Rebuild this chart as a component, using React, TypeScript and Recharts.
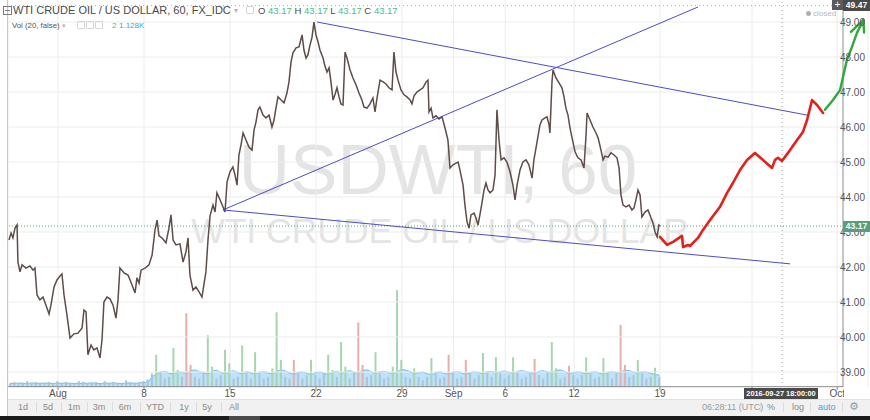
import React from 'react';
import { ComposedChart, Line, Bar, Area, Cell, XAxis, YAxis, CartesianGrid, ReferenceLine } from 'recharts';

// x = trading days counted from Mon 1 Aug 2016 (weekends skipped)
const dayTicks = [0, 5, 10, 15, 20, 23, 26, 30, 35, 40.35, 45.3];
// the "26" label sits under the crosshair date box, so only its grid line shows
const dayLabels = ['Aug', '8', '15', '22', '29', 'Sep', '6', '12', '19', '', 'Oct'];
const priceTicks = [39, 40, 41, 42, 43, 44, 45, 46, 47, 48, 49];

const priceDay = [
  -2.85, -2.73, -2.62, -2.5, -2.38, -2.33, -2.21, -2.09, -1.86, -1.63,
  -1.45, -1.34, -1.22, -1.05, -0.87, -0.7, -0.52, -0.41, -0.23, -0.06,
  0.12, 0.23, 0.35, 0.52, 0.7, 0.93, 1.16, 1.4, 1.51, 1.63,
  1.74, 1.92, 2.09, 2.27, 2.44, 2.56, 2.67, 2.85, 3.02, 3.2,
  3.37, 3.49, 3.6, 3.84, 4.07, 4.3, 4.48, 4.59, 4.71, 4.83,
  5.06, 5.29, 5.47, 5.64, 5.76, 5.87, 6.05, 6.28, 6.45, 6.57,
  6.69, 6.86, 7.09, 7.27, 7.44, 7.56, 7.67, 7.85, 8.02, 8.2,
  8.37, 8.49, 8.6, 8.72, 8.84, 9.01, 9.13, 9.24, 9.42, 9.59,
  9.71, 9.83, 10.0, 10.17, 10.29, 10.41, 10.52, 10.64, 10.76, 10.93,
  11.1, 11.28, 11.4, 11.51, 11.63, 11.74, 11.92, 12.09, 12.27, 12.44,
  12.56, 12.67, 12.79, 12.97, 13.14, 13.31, 13.43, 13.55, 13.66, 13.84,
  14.01, 14.19, 14.3, 14.42, 14.53, 14.65, 14.77, 14.88, 15.0, 15.12,
  15.23, 15.41, 15.52, 15.64, 15.76, 15.87, 15.99, 16.1, 16.22, 16.34,
  16.45, 16.57, 16.69, 16.8, 16.98, 17.15, 17.33, 17.5, 17.67, 17.79,
  17.97, 18.14, 18.31, 18.43, 18.55, 18.72, 18.9, 19.07, 19.24, 19.42,
  19.53, 19.65, 19.77, 19.94, 20.12, 20.29, 20.47, 20.58, 20.7, 20.87,
  21.05, 21.22, 21.4, 21.51, 21.57, 21.69, 21.8, 21.98, 22.15, 22.33,
  22.5, 22.67, 22.79, 22.97, 23.14, 23.26, 23.37, 23.55, 23.66, 23.78,
  23.9, 24.01, 24.19, 24.3, 24.42, 24.53, 24.65, 24.77, 24.88, 25.0,
  25.12, 25.29, 25.41, 25.52, 25.64, 25.76, 25.93, 26.1, 26.28, 26.45,
  26.57, 26.69, 26.86, 27.03, 27.21, 27.38, 27.56, 27.67, 27.85, 28.02,
  28.14, 28.31, 28.43, 28.55, 28.6, 28.72, 28.78, 28.95, 29.13, 29.3,
  29.42, 29.53, 29.65, 29.77, 29.94, 30.06, 30.23, 30.41, 30.58, 30.7,
  30.76, 30.93, 31.1, 31.28, 31.4, 31.57, 31.69, 31.8, 31.98, 32.15,
  32.33, 32.5, 32.62, 32.73, 32.85, 33.02, 33.2, 33.37, 33.49, 33.6,
  33.72, 33.84, 33.95, 34.13, 34.3, 34.48, 34.59, 34.71, 34.83, 34.94,
  35.0,
];
const priceClose = [
  42.77, 42.97, 42.83, 43.11, 43.2, 42.14, 41.86, 42.06, 41.97, 42.03,
  41.91, 41.97, 41.2, 41.06, 41.14, 40.91, 40.66, 40.91, 41.43, 41.63,
  41.74, 41.8, 41.2, 40.63, 39.97, 40.09, 40.11, 40.26, 40.77, 40.72,
  39.49, 39.77, 39.63, 39.69, 39.4, 39.92, 41.0, 41.14, 41.09, 40.91,
  40.54, 41.06, 41.97, 41.83, 41.77, 41.49, 41.26, 41.69, 41.54, 41.91,
  41.97, 42.06, 42.34, 43.06, 43.34, 42.89, 42.83, 42.69, 43.11, 43.49,
  42.77, 42.63, 42.66, 42.14, 42.43, 42.83, 41.77, 41.34, 41.43, 41.29,
  41.14, 41.52, 41.86, 42.77, 43.46, 43.77, 43.57, 44.12, 43.92, 43.72,
  43.57, 44.43, 44.72, 44.86, 44.63, 44.34, 45.2, 45.49, 45.83, 45.63,
  45.43, 45.34, 45.92, 46.14, 46.49, 46.57, 46.34, 46.26, 46.34, 46.0,
  46.2, 46.54, 46.86, 46.77, 46.69, 46.97, 47.29, 47.86, 48.12, 48.26,
  48.29, 48.63, 48.2, 47.97, 48.06, 48.34, 48.57, 49.0, 48.63, 48.43,
  48.2, 47.97, 47.74, 47.57, 47.69, 47.29, 46.77, 46.92, 47.12, 46.86,
  46.66, 46.63, 48.14, 47.97, 47.63, 47.4, 47.2, 46.97, 46.77, 46.57,
  46.54, 46.66, 46.83, 46.43, 46.83, 47.34, 47.29, 47.23, 47.12, 47.06,
  48.14, 47.57, 47.34, 47.06, 46.92, 46.86, 46.77, 46.66, 46.89, 47.0,
  47.06, 47.12, 47.29, 47.34, 46.43, 46.54, 46.26, 46.32, 46.23, 46.29,
  45.97, 45.63, 44.83, 44.92, 44.97, 45.0, 44.77, 44.34, 43.77, 43.29,
  43.11, 43.49, 43.54, 43.4, 43.2, 43.49, 43.83, 44.2, 44.4, 44.2,
  44.12, 44.2, 44.63, 46.49, 45.63, 45.06, 45.12, 45.0, 44.72, 44.34,
  43.92, 44.34, 44.77, 45.0, 45.06, 44.92, 44.54, 45.06, 45.57, 46.06,
  46.2, 46.26, 46.29, 46.06, 45.83, 47.29, 47.63, 47.4, 47.26, 47.12,
  46.86, 46.54, 46.34, 45.97, 45.57, 45.29, 45.12, 45.06, 44.83, 45.77,
  46.4, 46.2, 46.0, 45.83, 45.69, 45.34, 45.06, 45.17, 45.14, 45.26,
  45.2, 45.12, 44.83, 44.06, 43.77, 43.72, 43.77, 43.63, 43.69, 43.92,
  44.2, 44.06, 43.43, 43.57, 43.63, 43.4, 43.26, 43.0, 42.86, 43.2,
  43.17,
];

// hand-drawn projection (red) and breakout (green)
const forecastDay = [35.0, 35.41, 35.76, 36.28, 36.34, 36.63, 36.74, 37.21, 37.5, 37.91, 38.49, 38.9, 39.24, 39.65,
  40.06, 40.52, 40.99, 41.51, 41.69, 41.86, 42.09, 42.44, 42.97, 43.31, 43.55, 43.84, 44.13, 44.48];
const forecastPrice = [42.86, 42.63, 42.72, 42.89, 42.57, 42.63, 42.6, 42.83, 43.06, 43.34, 43.72, 44.12, 44.4, 44.77,
  45.06, 45.26, 45.06, 44.83, 45.06, 45.12, 45.03, 45.26, 45.63, 45.86, 46.2, 46.77, 46.63, 46.4];
const breakoutDay = [44.59, 45.06, 45.47, 45.64, 45.87, 46.16, 46.45, 46.83];
const breakoutPrice = [46.49, 46.77, 47.06, 47.43, 47.92, 48.29, 48.69, 49.06];
const arrowDay = [46.1, 46.83, 46.86];
const arrowPrice = [48.72, 49.06, 48.7];

// triangle trendlines
const upperDay = [15.06, 43.55];
const upperPrice = [49.0, 46.34];
const risingDay = [9.59, 37.21];
const risingPrice = [43.63, 49.43];
const lowerDay = [9.59, 42.56];
const lowerPrice = [43.63, 42.09];

// volume in K, 6h buckets across the whole time scale (200 buckets, only the first 152 traded)
const BUCKETS = 200;
const volume = [
  0.2, 0.3, 0.15, 0.25, 0.35, 0.2, 0.3, 0.25, 0.15, 0.3,
  0.25, 0.35, 0.2, 0.3, 0.25, 0.2, 0.35, 0.3, 0.2, 0.25,
  0.3, 0.2, 0.35, 0.25, 0.3, 0.2, 0.25, 0.4, 0.3, 0.25,
  0.3, 0.35, 0.45, 0.8, 1.9, 0.9, 0.5, 0.6, 2.3, 1.0,
  0.6, 4.35, 1.3, 0.6, 0.5, 0.9, 3.05, 1.2, 0.5, 0.7,
  2.2, 1.4, 0.5, 0.6, 2.45, 0.9, 0.5, 2.05, 0.8, 0.5,
  0.6, 1.1, 4.4, 1.6, 0.6, 0.5, 1.6, 0.8, 0.5, 0.7,
  1.6, 0.7, 0.5, 0.8, 1.9, 1.0, 0.6, 2.65, 1.2, 0.5,
  0.9, 3.8, 1.3, 0.6, 0.7, 2.05, 0.8, 0.5, 0.6, 1.2,
  5.7, 1.6, 0.6, 0.5, 1.1, 0.6, 0.4, 0.6, 1.7, 0.8,
  0.5, 0.6, 1.9, 0.9, 0.5, 0.6, 1.6, 0.8, 0.5, 0.7,
  2.0, 0.9, 0.6, 1.75, 0.8, 0.5, 0.7, 1.75, 0.9, 0.5,
  0.6, 0.8, 1.65, 0.7, 0.5, 0.9, 2.65, 1.1, 0.5, 0.6,
  1.25, 0.7, 0.5, 0.7, 1.75, 0.8, 0.5, 0.6, 1.7, 0.9,
  0.5, 0.8, 3.65, 1.3, 0.6, 0.7, 1.6, 0.8, 0.5, 0.6,
  1.13, 0.6,
];
const volumeMa = [
  0.22, 0.2, 0.23, 0.22, 0.2, 0.24, 0.22, 0.21, 0.23, 0.22,
  0.2, 0.23, 0.22, 0.24, 0.21, 0.22, 0.2, 0.23, 0.22, 0.24,
  0.22, 0.2, 0.23, 0.22, 0.25, 0.22, 0.2, 0.24, 0.23, 0.22,
  0.24, 0.26, 0.3,
  0.6, 0.75, 0.88, 0.92, 0.8, 0.78, 0.9, 0.85, 0.82, 0.96,
  1.0, 0.9, 0.8, 0.78, 0.92, 0.98, 0.86, 0.8, 0.9, 0.95,
  0.85, 0.78, 0.9, 0.84, 0.76, 0.86, 0.9, 0.82, 0.78, 0.92,
  1.0, 0.94, 0.82, 0.76, 0.86, 0.88, 0.8, 0.74, 0.84, 0.88,
  0.8, 0.76, 0.88, 0.92, 0.8, 0.9, 0.96, 0.86, 0.82, 0.98,
  1.0, 0.9, 0.8, 0.9, 0.92, 0.84, 0.8, 0.9, 1.02, 1.0,
  0.9, 0.8, 0.84, 0.86, 0.78, 0.74, 0.84, 0.88, 0.8, 0.76,
  0.86, 0.9, 0.82, 0.76, 0.84, 0.9, 0.84, 0.8, 0.9, 0.92,
  0.84, 0.9, 0.94, 0.86, 0.8, 0.92, 0.96, 0.9, 0.84, 0.82,
  0.92, 0.96, 0.88, 0.86, 0.98, 1.0, 0.9, 0.8, 0.84, 0.9,
  0.84, 0.78, 0.86, 0.9, 0.82, 0.76, 0.86, 0.9, 0.84, 0.88,
  0.98, 0.96, 0.88, 0.82, 0.9, 0.88, 0.8, 0.74, 0.7,
];
const downBuckets = [41, 42, 66, 81, 82, 102, 106, 122, 130, 142, 143];

const X_DOMAIN: [number, number] = [-2.907, 47.093];
const P_DOMAIN: [number, number] = [38.571, 49.629];
const AXIS_EDGE = 45.64; // price scale border

const pts = (xs: number[], ys: number[]) => xs.map((t, i) => ({ t, v: ys[i] }));

const volData = Array.from({ length: BUCKETS }, (_, i) => ({
  b: i,
  vol: i < volume.length ? volume[i] : null,
  ma: i < volumeMa.length ? volumeMa[i] : null,
}));

const volColor = (i: number) => {
  const v = volume[i] ?? 0;
  if (v < 1) return '#abc6d2';
  return downBuckets.includes(i) ? '#e3b0ac' : '#a7d5b0';
};

const abs = (s: React.CSSProperties): React.CSSProperties => ({ position: 'absolute', whiteSpace: 'nowrap', ...s });

const Box = ({ left, top }: { left: number; top: number }) => (
  <span style={abs({ left, top, width: 6, height: 6, border: '1px solid #d6d6d6', borderRadius: 1 })} />
);

export default function App() {
  const trend = { stroke: '#4d4dc6', strokeWidth: 1, dot: false, activeDot: false, isAnimationActive: false, yAxisId: 'p' };
  const tfItems: [string, number][] = [['1d', 23], ['5d', 48], ['1m', 74], ['3m', 99], ['6m', 125], ['YTD', 155], ['1y', 184], ['5y', 207], ['All', 234]];
  const seps = [36, 61, 87, 112, 140, 170, 196, 221];

  return (
    <div style={{ position: 'fixed', left: 0, top: 0, width: 870, height: 420, background: '#fff', overflow: 'hidden', fontFamily: '"Liberation Sans", Arial, sans-serif' }}>
      {/* watermark */}
      <div style={abs({ left: 0, width: 876, top: 134, textAlign: 'center', fontSize: 71, lineHeight: '71px', color: '#e4e4e4' })}>USDWTI, 60</div>
      <div style={abs({ left: 0, width: 880, top: 213, textAlign: 'center', fontSize: 35.5, lineHeight: '36px', color: '#e4e4e4' })}>WTI CRUDE OIL / US DOLLAR</div>

      <div style={{ position: 'absolute', left: 0, top: 0 }}>
        <ComposedChart width={870} height={420} data={volData} margin={{ top: 0, right: 2, bottom: 19, left: 8 }}>
          <CartesianGrid horizontal={false} stroke="#ececec" yAxisId="p" />
          <XAxis
            type="number"
            dataKey="t"
            domain={X_DOMAIN}
            ticks={dayTicks}
            interval={0}
            tickFormatter={(v: number) => dayLabels[dayTicks.indexOf(v)]}
            height={14}
            axisLine={false}
            tickLine={{ stroke: '#888' }}
            tickSize={3}
            tickMargin={0}
            tick={{ fill: '#555', fontSize: 10 }}
          />
          <XAxis xAxisId="cat" type="category" dataKey="b" hide />
          <YAxis
            yAxisId="p"
            orientation="right"
            mirror
            width={1}
            type="number"
            domain={P_DOMAIN}
            ticks={priceTicks}
            interval={0}
            tickFormatter={(v: number) => v.toFixed(2)}
            axisLine={false}
            tickLine={false}
            tickSize={0}
            tickMargin={3}
            tick={{ fill: '#555', fontSize: 10 }}
          />
          <YAxis yAxisId="v" hide type="number" domain={[0, 22.8]} />

          {priceTicks.map((p) => (
            <ReferenceLine key={p} yAxisId="p" segment={[{ x: -2.9, y: p }, { x: AXIS_EDGE, y: p }]} stroke="#ececec" />
          ))}
          <ReferenceLine yAxisId="p" segment={[{ x: -2.9, y: 38.58 }, { x: AXIS_EDGE, y: 38.58 }]} stroke="#8c8c8c" />
          <ReferenceLine yAxisId="p" x={AXIS_EDGE} stroke="#8c8c8c" />
          <ReferenceLine yAxisId="p" x={42.1} stroke="#a0a0a0" strokeDasharray="1 3" />
          <ReferenceLine yAxisId="p" y={49.47} stroke="#b0b0b0" strokeDasharray="1 3" />
          <ReferenceLine yAxisId="p" y={43.17} stroke="#5a9e7b" strokeDasharray="1 2" />

          <Bar xAxisId="cat" yAxisId="v" dataKey="vol" barSize={2} isAnimationActive={false}>
            {volData.map((_, i) => (
              <Cell key={i} fill={volColor(i)} />
            ))}
          </Bar>
          <Area xAxisId="cat" yAxisId="v" dataKey="ma" type="monotone" stroke="#6dbdf0" strokeWidth={1} fill="#8fd0f8" fillOpacity={0.6} isAnimationActive={false} dot={false} activeDot={false} />

          <Line data={pts(priceDay, priceClose)} dataKey="v" yAxisId="p" type="linear" stroke="#5e4c48" strokeWidth={1.5} dot={false} activeDot={false} isAnimationActive={false} />

          <Line data={pts(upperDay, upperPrice)} dataKey="v" {...trend} />
          <Line data={pts(risingDay, risingPrice)} dataKey="v" {...trend} />
          <Line data={pts(lowerDay, lowerPrice)} dataKey="v" {...trend} />

          <Line data={pts(forecastDay, forecastPrice)} dataKey="v" yAxisId="p" type="linear" stroke="#e3211b" strokeWidth={2.6} strokeLinejoin="round" strokeLinecap="round" dot={false} activeDot={false} isAnimationActive={false} />
          <Line data={pts(breakoutDay, breakoutPrice)} dataKey="v" yAxisId="p" type="linear" stroke="#2fa83c" strokeWidth={2.4} strokeLinejoin="round" strokeLinecap="round" dot={false} activeDot={false} isAnimationActive={false} />
          <Line data={pts(arrowDay, arrowPrice)} dataKey="v" yAxisId="p" type="linear" stroke="#2fa83c" strokeWidth={2.4} strokeLinejoin="round" strokeLinecap="round" dot={false} activeDot={false} isAnimationActive={false} />
        </ComposedChart>
      </div>

      {/* left border */}
      <div style={abs({ left: 7, top: 0, width: 1, height: 416, background: '#c8c8c8' })} />

      {/* legend header */}
      <span style={abs({ left: 3, top: 6, width: 7, height: 7, border: '1px solid #7a7a7a' })}>
        <span style={abs({ left: 1, top: 3, width: 5, height: 1, background: '#7a7a7a' })} />
      </span>
      <div style={abs({ left: 13, top: 4, fontSize: 11, lineHeight: '13px', color: '#4a4a4a' })}>WTI CRUDE OIL / US DOLLAR, 60, FX_IDC</div>
      <div style={abs({ left: 234, top: 5, fontSize: 8, lineHeight: '11px', color: '#b5b5b5' })}>▾</div>
      <Box left={246} top={6} />
      <div style={abs({ left: 258, top: 5, fontSize: 9.5, lineHeight: '12px', color: '#4a4a4a' })}>
        O <span style={{ color: '#53b987' }}>43.17</span> H <span style={{ color: '#53b987' }}>43.17</span> L{' '}
        <span style={{ color: '#53b987' }}>43.17</span> C <span style={{ color: '#53b987' }}>43.17</span>
      </div>
      <div style={abs({ left: 12, top: 20, fontSize: 7.8, lineHeight: '11px', color: '#555' })}>Vol (20, false)</div>
      <div style={abs({ left: 62, top: 20, fontSize: 7, lineHeight: '11px', color: '#b5b5b5' })}>▾</div>
      <Box left={77} top={21} />
      <Box left={86} top={21} />
      <Box left={95} top={21} />
      <div style={abs({ left: 112, top: 20, fontSize: 8, lineHeight: '11px', color: '#53b987' })}>2</div>
      <div style={abs({ left: 119, top: 20, fontSize: 8, lineHeight: '11px', color: '#3ea4de' })}>1.128K</div>

      {/* price scale labels */}
      <div style={abs({ left: 806, top: 11, width: 5, height: 5, borderRadius: 3, background: '#b0b0b0' })} />
      <div style={abs({ left: 813, top: 9, fontSize: 8, lineHeight: '10px', color: '#b8b8b8' })}>closed</div>
      <div style={abs({ left: 832, top: 0, width: 11, height: 10, background: '#5a5a5a', color: '#fff', fontSize: 10, lineHeight: '10px', textAlign: 'center' })}>+</div>
      <div style={abs({ left: 843, top: 0, width: 27, height: 11, background: '#4a4a4a', color: '#fff', fontSize: 8.5, lineHeight: '11px', textAlign: 'center', fontWeight: 'bold' })}>49.47</div>
      <div style={abs({ left: 843, top: 221, width: 27, height: 11, background: '#5b9d7c', color: '#fff', fontSize: 8.5, lineHeight: '11px', textAlign: 'center', fontWeight: 'bold' })}>43.17</div>

      {/* time scale cover + crosshair date */}
      <div style={abs({ left: 844, top: 388, width: 26, height: 11, background: '#fff' })} />
      <div style={abs({ left: 744, top: 388, width: 74, height: 11, background: '#4a4a4a', color: '#fff', fontSize: 7.4, lineHeight: '11px', textAlign: 'center', fontWeight: 'bold' })}>2016-09-27 18:00:00</div>

      {/* bottom toolbar */}
      <div style={abs({ left: 8, top: 399, width: 862, height: 17, background: '#f1f1f1', borderTop: '1px solid #e2e2e2' })} />
      {tfItems.map(([label, x]) => (
        <div key={label} style={abs({ left: x - 15, width: 30, top: 401, textAlign: 'center', fontSize: 9, lineHeight: '12px', color: '#8a8a8a' })}>{label}</div>
      ))}
      {seps.map((x) => (
        <div key={x} style={abs({ left: x, top: 402, width: 1, height: 10, background: '#dcdcdc' })} />
      ))}
      <div style={abs({ left: 702, top: 401, fontSize: 9, lineHeight: '12px', color: '#9a9a9a' })}>06:28:11 (UTC)</div>
      <div style={abs({ left: 760, top: 402, width: 1, height: 10, background: '#dcdcdc' })} />
      <div style={abs({ left: 767, top: 401, fontSize: 9, lineHeight: '12px', color: '#8a8a8a' })}>%</div>
      <div style={abs({ left: 783, top: 402, width: 1, height: 10, background: '#dcdcdc' })} />
      <div style={abs({ left: 792, top: 401, fontSize: 9, lineHeight: '12px', color: '#8a8a8a' })}>log</div>
      <div style={abs({ left: 810, top: 402, width: 1, height: 10, background: '#dcdcdc' })} />
      <div style={abs({ left: 818, top: 401, fontSize: 9, lineHeight: '12px', color: '#3ea4de' })}>auto</div>
      <div style={abs({ left: 842, top: 402, width: 1, height: 10, background: '#dcdcdc' })} />
      <div style={abs({ left: 849, top: 400, fontSize: 11, lineHeight: '13px', color: '#999', fontFamily: '"DejaVu Sans", sans-serif' })}>⚙</div>

      {/* window edge */}
      <div style={abs({ left: 0, top: 416, width: 870, height: 4, background: '#1b1b1b' })} />
      <div style={abs({ left: 229, top: 416, width: 31, height: 4, background: '#4a4a4a' })} />
    </div>
  );
}
